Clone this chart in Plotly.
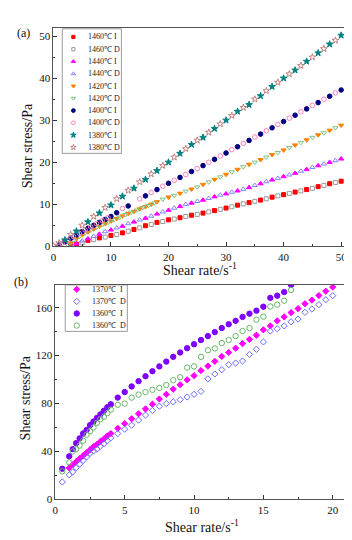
import plotly.graph_objects as go

W, H = 352, 540

# ---------------- panel (a) data ----------------
a_names = ["1460℃ I", "1460℃ D", "1440℃ I", "1440℃ D", "1420℃ I",
           "1420℃ D", "1400℃ I", "1400℃ D", "1380℃ I", "1380℃ D"]

x_1460I = [3, 4, 6, 8, 10, 12, 14, 16, 18, 20, 22, 24, 26, 28, 30, 32, 34, 36, 38, 40, 42, 44, 46, 48, 50]
y_1460I = [0.2, 0.5, 1.4, 2.0, 2.6, 3.2, 4.0, 4.9, 5.7, 6.3, 6.8, 7.4, 7.9, 8.5, 9.1, 9.8, 10.4, 11.0, 11.7, 12.3, 12.9, 13.5, 14.2, 14.9, 15.5]
x_1460D = [5, 7, 9, 11, 13, 15, 17, 19, 21, 23, 25, 27, 29, 31, 33, 35, 37, 39, 41, 43, 45, 47, 49]
y_1460D = [0.8, 1.6, 2.2, 2.8, 3.6, 4.4, 5.2, 5.9, 6.5, 7.1, 7.6, 8.2, 8.8, 9.4, 10.1, 10.7, 11.3, 12.0, 12.6, 13.2, 13.8, 14.5, 15.2]

x_1440I = [4, 6, 8, 10, 12, 14, 16, 18, 20, 22, 24, 26, 28, 30, 32, 34, 36, 38, 40, 42, 44, 46, 48, 50]
y_1440I = [0.6, 1.8, 2.9, 3.9, 4.8, 5.8, 6.7, 7.7, 8.6, 9.5, 10.3, 11.0, 11.8, 12.5, 13.2, 14.0, 14.9, 15.8, 16.6, 17.4, 18.3, 19.2, 20.0, 20.8]
x_1440D = [3, 5, 7, 9, 11, 13, 15, 17, 19, 21, 23, 25, 27, 29, 31, 33, 35, 37, 39, 41, 43, 45, 47, 49]
y_1440D = [0.3, 1.3, 2.4, 3.5, 4.4, 5.4, 6.3, 7.2, 8.2, 9.1, 10.0, 10.7, 11.4, 12.2, 12.9, 13.6, 14.5, 15.4, 16.2, 17.0, 17.9, 18.8, 19.6, 20.4]

x_1420I = [3, 4, 5, 6, 7, 8, 9, 10, 11, 12, 13, 14, 15, 16, 17, 18, 20, 22, 24, 26, 28, 30, 32, 34, 36, 38, 40, 42, 44, 46, 48, 50]
y_1420I = [0.8, 1.8, 2.7, 3.4, 4.1, 4.8, 5.4, 6.0, 6.6, 7.2, 7.8, 8.3, 8.9, 9.4, 10.0, 10.6, 11.7, 12.6, 13.6, 14.7, 15.9, 17.1, 18.3, 19.5, 20.6, 21.8, 22.9, 24.1, 25.3, 26.5, 27.6, 28.8]
x_1420D = [2.5, 3.5, 4.5, 5.5, 6.5, 7.5, 8.5, 9.5, 10.5, 11.5, 12.5, 13.5, 14.5, 15.5, 16.5, 17.5, 19, 21, 23, 25, 27, 29, 31, 33, 35, 37, 39, 41, 43, 45, 47, 49]
y_1420D = [0.4, 1.4, 2.3, 3.1, 3.8, 4.5, 5.1, 5.7, 6.3, 6.9, 7.5, 8.1, 8.6, 9.2, 9.7, 10.3, 11.2, 12.1, 13.1, 14.1, 15.3, 16.5, 17.7, 18.9, 20.0, 21.2, 22.3, 23.5, 24.7, 25.9, 27.0, 28.2]

x_1400I = [1, 2, 3, 4, 5, 6, 7, 8, 9, 10, 11, 13, 16, 18, 20, 22, 24, 26, 28, 30, 32, 34, 36, 38, 40, 42, 44, 46, 48, 50]
y_1400I = [0.3, 1.1, 1.9, 2.7, 3.5, 4.3, 5.0, 5.7, 6.4, 7.1, 8.0, 9.6, 12.0, 13.5, 15.0, 16.4, 17.8, 19.2, 20.7, 22.2, 23.7, 25.2, 26.7, 28.2, 29.7, 31.2, 32.7, 34.2, 35.7, 37.2]
x_1400D = [0, 1.5, 2.5, 3.5, 4.5, 5.5, 6.5, 7.5, 8.5, 9.5, 12, 15, 17, 19, 21, 23, 25, 27, 29, 31, 33, 35, 37, 39, 41, 43, 45, 47, 49]
y_1400D = [0.0, 0.7, 1.5, 2.3, 3.1, 3.9, 4.6, 5.4, 6.1, 6.8, 9.0, 11.3, 12.8, 14.3, 15.7, 17.1, 18.5, 20.0, 21.5, 23.0, 24.5, 26.0, 27.5, 29.0, 30.5, 32.0, 33.5, 35.0, 36.5]

x_1380I = [2, 4, 6, 8, 10, 12, 14, 16, 18, 20, 22, 24, 26, 28, 30, 32, 34, 36, 38, 40, 42, 44, 46, 48, 50]
y_1380I = [1.5, 3.6, 5.8, 7.9, 9.8, 11.9, 13.8, 15.9, 18.0, 20.0, 22.1, 24.2, 25.9, 28.0, 30.0, 32.1, 33.7, 35.8, 38.0, 40.0, 41.9, 44.0, 46.0, 48.1, 50.2]
x_1380D = [0, 1, 3, 5, 7, 9, 11, 13, 15, 17, 19, 21, 23, 25, 27, 29, 31, 33, 35, 37, 39, 41, 43, 45, 47, 49]
y_1380D = [0.2, 0.8, 2.8, 5.0, 7.1, 9.2, 11.3, 13.3, 15.3, 17.2, 19.2, 21.2, 23.2, 25.2, 27.1, 29.1, 31.1, 33.0, 35.0, 37.0, 39.0, 41.0, 43.0, 45.0, 47.0, 49.0]

# ---------------- panel (b) data ----------------
b_names = ["1370℃ I", "1370℃ D", "1360℃ I", "1360℃ D"]

x_1370I = [1, 1.25, 1.5, 1.75, 2, 2.25, 2.5, 2.75, 3, 3.25, 3.5, 3.75, 4,
           4.5, 5, 5.5, 6, 6.5, 7, 7.5, 8, 8.5, 9, 9.5, 10, 10.5, 11, 11.5, 12,
           12.5, 13, 13.5, 14, 14.5, 15, 15.5, 16, 16.5, 17, 17.5, 18, 18.5, 19, 19.5, 20]
y_1370I = [26.4, 29, 31.5, 34, 36.5, 39, 41.5, 44, 46, 48.5, 50.5, 53, 55,
           59.4, 63.3, 67.3, 71.5, 75.5, 79.5, 83.8, 87.7, 92, 95.7, 99.8, 103.3, 107.5, 111.3, 115.2, 119.3,
           122.6, 126.2, 130, 133.6, 137, 141.5, 144.8, 149, 152.3, 155.9, 159.2, 163.3, 166.3, 170.1, 173.7, 177.2]
x_1370D = [0.5] + x_1370I
y_1370D = [14.6, 20.6, 23, 26.5, 29.5, 32.5, 35.5, 38.5, 40.5, 42, 44.5, 46.5, 49, 51.5,
           55, 58.6, 62, 66.2, 70.4, 74.3, 77.8, 80, 81.4, 83.3, 85.5, 87.7, 90.2, 100.6, 104.7,
           108.3, 112.4, 113.8, 115.5, 121, 125.3, 131.4, 140.5, 142.4, 144.8, 148.2, 150.5, 156.1,
           158.9, 162.5, 166.6, 170]

x_1360 = [0.5, 1, 1.25, 1.5, 1.75, 2, 2.25, 2.5, 2.75, 3, 3.25, 3.5, 3.75, 4,
          4.5, 5, 5.5, 6, 6.5, 7, 7.5, 8, 8.5, 9, 9.5, 10, 10.5, 11, 11.5, 12,
          12.5, 13, 13.5, 14, 14.5, 15, 15.5, 16, 16.5, 17]
y_1360I = [25.6, 36, 42, 47, 51, 55, 58, 62, 65, 68, 71, 74, 77, 79.4,
           85, 89.6, 94.3, 98.7, 102.8, 107, 111, 115, 119, 122.6, 126.2, 129.5, 133, 136.3, 139.6, 143,
           146.2, 149, 152.3, 155, 157.5, 160.8, 168.2, 170, 173, 179]
y_1360D = [23.5, 31, 40, 42, 45, 49, 54, 57, 60, 64, 67, 69, 72, 75,
           79, 80, 85, 87.5, 89.6, 91.5, 93, 95.5, 99.5, 102, 110, 111, 119, 124.5, 126, 130.5,
           133, 136.3, 140.5, 143, 150, 152.5, 161, 162.5, 165.8, 174.8]

a_x = [x_1460I, x_1460D, x_1440I, x_1440D, x_1420I, x_1420D, x_1400I, x_1400D, x_1380I, x_1380D]
a_y = [y_1460I, y_1460D, y_1440I, y_1440D, y_1420I, y_1420D, y_1400I, y_1400D, y_1380I, y_1380D]
a_sym = ["square", "square-open", "triangle-up", "triangle-up-open", "triangle-down",
         "triangle-down-open", "circle", "circle-open", "star", "star-open"]
a_col = ["#FF0000", "#9A9A9A", "#FF00FF", "#8080FF", "#FF8000",
         "#80C080", "#000080", "#FF80C0", "#008080", "#C08080"]
a_size = [4, 4, 4.6, 4.6, 4.6, 4.6, 4.6, 4.6, 5, 5]

b_x = [x_1370I, x_1370D, x_1360, x_1360]
b_y = [y_1370I, y_1370D, y_1360I, y_1360D]
b_sym = ["diamond", "diamond-open", "circle", "circle-open"]
b_col = ["#FF00FF", "#6A6AFF", "#7F00FF", "#66B866"]
b_size = [4.8, 4.8, 5.4, 5.4]

FONT = "Liberation Serif, Times New Roman, serif"

fig = go.Figure()

for i in range(len(a_names)):
    fig.add_trace(go.Scatter(
        x=a_x[i], y=a_y[i], mode="markers", name=a_names[i], xaxis="x", yaxis="y",
        marker=dict(symbol=a_sym[i], color=a_col[i], size=a_size[i], line=dict(width=1, color=a_col[i])),
        showlegend=False))

for i in range(len(b_names)):
    fig.add_trace(go.Scatter(
        x=b_x[i], y=b_y[i], mode="markers", name=b_names[i], xaxis="x2", yaxis="y2",
        marker=dict(symbol=b_sym[i], color=b_col[i], size=b_size[i], line=dict(width=1, color=b_col[i])),
        showlegend=False))

# ---------------- hand-made legends on helper axes ----------------
annotations = []
for i, nm in enumerate(a_names):
    fig.add_trace(go.Scatter(
        x=[11.3], y=[8.3 + 12.4 * i], mode="markers", xaxis="x3", yaxis="y3", showlegend=False,
        hoverinfo="skip",
        marker=dict(symbol=a_sym[i], color=a_col[i], size=a_size[i] - 0.8, line=dict(width=1, color=a_col[i]))))
    annotations.append(dict(x=24, y=8.3 + 12.4 * i, xref="x3", yref="y3", text=nm, showarrow=False,
                            xanchor="left", yanchor="middle", font=dict(family=FONT, size=8, color="#222")))
for i, nm in enumerate(b_names):
    fig.add_trace(go.Scatter(
        x=[11.7], y=[4.5 + 12.2 * i], mode="markers", xaxis="x4", yaxis="y4", showlegend=False,
        hoverinfo="skip",
        marker=dict(symbol=b_sym[i], color=b_col[i], size=b_size[i], line=dict(width=1, color=b_col[i]))))
    annotations.append(dict(x=25, y=4.5 + 12.2 * i, xref="x4", yref="y4", text=nm.replace(" ", "\u00a0 "),
                            showarrow=False, xanchor="left", yanchor="middle",
                            font=dict(family=FONT, size=8, color="#222")))

def px_x(p):
    return p / W

def px_y(p):
    return 1 - p / H

axis_common = dict(showline=True, linecolor="#555", linewidth=1, mirror=True, ticks="inside",
                   ticklen=4, tickcolor="#333", showgrid=False, zeroline=False,
                   tickfont=dict(family=FONT, size=11, color="#111"))

# title annotations
tfont = dict(family=FONT, size=14, color="#111")
annotations += [
    dict(x=px_x(17), y=px_y(139), xref="paper", yref="paper", text="Shear stress/Pa", textangle=-90,
         showarrow=False, font=tfont, xanchor="center", yanchor="middle"),
    dict(x=px_x(192), y=px_y(264), xref="paper", yref="paper", text="Shear rate/s<sup>-1</sup>",
         showarrow=False, font=tfont, xanchor="center", yanchor="middle"),
    dict(x=px_x(15), y=px_y(394), xref="paper", yref="paper", text="Shear stress/Pa", textangle=-90,
         showarrow=False, font=tfont, xanchor="center", yanchor="middle"),
    dict(x=px_x(194), y=px_y(524), xref="paper", yref="paper", text="Shear rate/s<sup>-1</sup>",
         showarrow=False, font=tfont, xanchor="center", yanchor="middle"),
    dict(x=px_x(13), y=px_y(25), xref="paper", yref="paper", text="(a)",
         showarrow=False, font=dict(family=FONT, size=12, color="#111"), xanchor="center", yanchor="middle"),
    dict(x=px_x(10), y=px_y(277), xref="paper", yref="paper", text="(b)",
         showarrow=False, font=dict(family=FONT, size=12, color="#111"), xanchor="center", yanchor="middle"),
]

hidden = dict(visible=False, showgrid=False, zeroline=False, fixedrange=True)

fig.update_layout(
    width=W, height=H, margin=dict(l=0, r=0, t=0, b=0),
    paper_bgcolor="white", plot_bgcolor="rgba(0,0,0,0)", showlegend=False,
    xaxis=dict(domain=[px_x(43), px_x(339)], range=[0, 50.7], tickvals=[0, 10, 20, 30, 40, 50],
               minor=dict(ticks="inside", ticklen=2, dtick=5, tick0=0, tickcolor="#333"),
               anchor="y", **axis_common),
    yaxis=dict(domain=[px_y(241), px_y(20)], range=[0, 52], tickvals=[0, 10, 20, 30, 40, 50],
               minor=dict(ticks="inside", ticklen=2, dtick=5, tick0=0, tickcolor="#333"),
               anchor="x", **axis_common),
    xaxis2=dict(domain=[px_x(45), px_x(339)], range=[0, 20.9], tickvals=[0, 5, 10, 15, 20],
                minor=dict(ticks="inside", ticklen=2, dtick=2.5, tick0=0, tickcolor="#333"),
                anchor="y2", **axis_common),
    yaxis2=dict(domain=[px_y(497), px_y(280)], range=[0, 179], tickvals=[0, 40, 80, 120, 160],
                minor=dict(ticks="inside", ticklen=2, dtick=20, tick0=0, tickcolor="#333"),
                anchor="x2", **axis_common),
    xaxis3=dict(domain=[px_x(52), px_x(112)], range=[0, 60], anchor="y3", **hidden),
    yaxis3=dict(domain=[px_y(147), px_y(21)], range=[126, 0], anchor="x3", **hidden),
    xaxis4=dict(domain=[px_x(55), px_x(118)], range=[0, 63], anchor="y4", **hidden),
    yaxis4=dict(domain=[px_y(327), px_y(280)], range=[47, 0], anchor="x4", **hidden),
    annotations=annotations,
    shapes=[
        dict(type="rect", xref="x3 domain", yref="y3 domain", x0=0, x1=1, y0=0, y1=1,
             line=dict(color="#9a9a9a", width=1), layer="below"),
        dict(type="rect", xref="x4 domain", yref="y4 domain", x0=0, x1=1, y0=0, y1=1,
             line=dict(color="#9a9a9a", width=1), layer="below"),
    ],
)

fig.write_html("out.html")
